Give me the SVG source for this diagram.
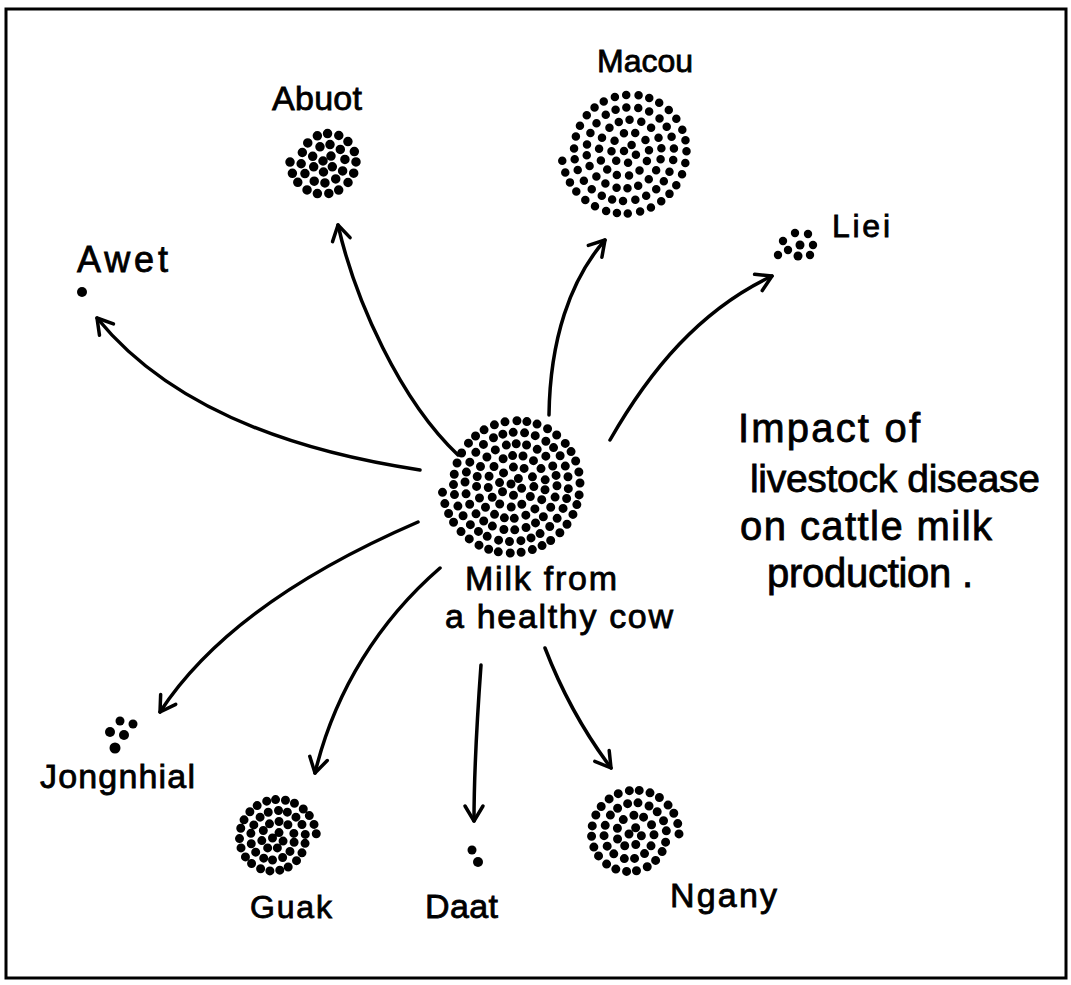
<svg xmlns="http://www.w3.org/2000/svg" width="1071" height="985" viewBox="0 0 1071 985">
<defs>
<style>
.t{font-family:"Liberation Sans",Arial,sans-serif;fill:#000;stroke:#000;stroke-width:0.8}
.c{fill:none;stroke:#000;stroke-width:3.5;stroke-linecap:round}
.sp{fill:none;stroke:#000;stroke-linecap:round}
.d{fill:#000}
</style>
<marker id="ah" viewBox="-20 -15 30 30" refX="0" refY="0" markerWidth="30" markerHeight="30" markerUnits="userSpaceOnUse" orient="auto">
<path d="M-15,-9 L0,0 L-15,9" fill="none" stroke="#000" stroke-width="3.5" stroke-linecap="round" stroke-linejoin="round"/>
</marker>
</defs>
<rect x="0" y="0" width="1071" height="985" fill="#fff"/>
<rect x="6" y="9" width="1060" height="969" fill="none" stroke="#000" stroke-width="3"/>

<g id="connectors">
<path class="c" d="M420,470 C320,455 180,420 97,318" marker-end="url(#ah)"/>
<path class="c" d="M458,455 C400,400 355,300 338,225" marker-end="url(#ah)"/>
<path class="c" d="M549,415 C550,340 570,280 605,240" marker-end="url(#ah)"/>
<path class="c" d="M610,440 C650,370 700,310 772,276" marker-end="url(#ah)"/>
<path class="c" d="M418,522 C330,560 220,620 160,712" marker-end="url(#ah)"/>
<path class="c" d="M440,568 C380,620 335,690 315,773" marker-end="url(#ah)"/>
<path class="c" d="M481,665 C477,720 474,780 474,821" marker-end="url(#ah)"/>
<path class="c" d="M545,648 C565,700 590,740 611,768" marker-end="url(#ah)"/>
</g>

<g id="center">
<path class="sp" stroke-width="9" stroke-dasharray="0 10.5 0 11.5 0 11 0 12 0 10" d="M511,484 a5.75,5.75 0 0 1 11.5,0 a11.5,11.5 0 0 1 -23,0 a17.25,17.25 0 0 1 34.5,0 a23,23 0 0 1 -46,0 a28.75,28.75 0 0 1 57.5,0 a34.5,34.5 0 0 1 -69,0 a40.25,40.25 0 0 1 80.5,0 a46,46 0 0 1 -92,0 a51.75,51.75 0 0 1 103.5,0 a57.5,57.5 0 0 1 -115,0 a63.25,63.25 0 0 1 126.5,0 a69,69 0 0 1 -138,0"/>
<text class="t" font-size="34" x="465" y="590" textLength="152" lengthAdjust="spacing">Milk from</text>
<text class="t" font-size="34" x="445" y="628" textLength="228" lengthAdjust="spacing">a healthy cow</text>
</g>

<g id="macou">
<path class="sp" stroke-width="8.5" stroke-dasharray="0 11 0 12 0 11.5 0 12.5 0 11" d="M624,151 a6.25,6.25 0 0 1 12.5,0 a12.5,12.5 0 0 1 -25,0 a18.75,18.75 0 0 1 37.5,0 a25,25 0 0 1 -50,0 a31.25,31.25 0 0 1 62.5,0 a37.5,37.5 0 0 1 -75,0 a43.75,43.75 0 0 1 87.5,0 a50,50 0 0 1 -100,0 a56.25,56.25 0 0 1 112.5,0 a62.5,62.5 0 0 1 -125,0"/>
<text class="t" font-size="32" x="597" y="72" textLength="96" lengthAdjust="spacing">Macou</text>
</g>

<g id="abuot">
<path class="sp" stroke-width="9.5" stroke-dasharray="0 11 0 12 0 10.5 0 11.5" d="M323,161 a5.5,5.5 0 0 1 11,0 a11,11 0 0 1 -22,0 a16.5,16.5 0 0 1 33,0 a22,22 0 0 1 -44,0 a27.5,27.5 0 0 1 55,0 a33,33 0 0 1 -66,0"/>
<text class="t" font-size="34" x="272" y="110" textLength="90" lengthAdjust="spacing">Abuot</text>
</g>

<g id="awet">
<circle class="d" cx="82" cy="292" r="5"/>
<text class="t" font-size="36" x="77" y="272" textLength="91" lengthAdjust="spacing">Awet</text>
</g>

<g id="liei">
<circle class="d" cx="795" cy="233" r="4.2"/>
<circle class="d" cx="808" cy="234" r="4.2"/>
<circle class="d" cx="783" cy="241" r="4.2"/>
<circle class="d" cx="800" cy="245" r="4.5"/>
<circle class="d" cx="813" cy="245" r="4.2"/>
<circle class="d" cx="788" cy="250" r="4.2"/>
<circle class="d" cx="778" cy="255" r="4.2"/>
<circle class="d" cx="798" cy="256" r="4.5"/>
<circle class="d" cx="810" cy="255" r="4.2"/>
<text class="t" font-size="32" x="832" y="237" textLength="58" lengthAdjust="spacing">Liei</text>
</g>

<g id="jongnhial">
<circle class="d" cx="120" cy="721" r="4.5"/>
<circle class="d" cx="133" cy="724" r="4.5"/>
<circle class="d" cx="110" cy="732" r="5"/>
<circle class="d" cx="124" cy="735" r="5"/>
<circle class="d" cx="115" cy="748" r="5.5"/>
<text class="t" font-size="34" x="40" y="788" textLength="155" lengthAdjust="spacing">Jongnhial</text>
</g>

<g id="guak">
<path class="sp" stroke-width="9" stroke-dasharray="0 9.5 0 10.5 0 9 0 10" d="M272.5,838 a5.5,5.5 0 0 1 11,0 a11,11 0 0 1 -22,0 a16.5,16.5 0 0 1 33,0 a22,22 0 0 1 -44,0 a27.5,27.5 0 0 1 55,0 a33,33 0 0 1 -66,0 a38.5,38.5 0 0 1 77,0"/>
<text class="t" font-size="32" x="250" y="918" textLength="82" lengthAdjust="spacing">Guak</text>
</g>

<g id="daat">
<circle class="d" cx="472" cy="850" r="4.5"/>
<circle class="d" cx="478" cy="862" r="5"/>
<text class="t" font-size="34" x="425" y="918" textLength="73" lengthAdjust="spacing">Daat</text>
</g>

<g id="ngany">
<path class="sp" stroke-width="9" stroke-dasharray="0 10 0 11 0 10.5 0 11.5" d="M629,834 a6.25,6.25 0 0 1 12.5,0 a12.5,12.5 0 0 1 -25,0 a18.75,18.75 0 0 1 37.5,0 a25,25 0 0 1 -50,0 a31.25,31.25 0 0 1 62.5,0 a37.5,37.5 0 0 1 -75,0 a43.75,43.75 0 0 1 87.5,0"/>
<text class="t" font-size="34" x="670" y="907" textLength="107" lengthAdjust="spacing">Ngany</text>
</g>

<g id="title">
<text class="t" font-size="40" x="738" y="442" textLength="182" lengthAdjust="spacing">Impact of</text>
<text class="t" font-size="39" x="750" y="492" textLength="290" lengthAdjust="spacing">livestock disease</text>
<text class="t" font-size="40" x="740" y="540" textLength="252" lengthAdjust="spacing">on cattle milk</text>
<text class="t" font-size="40" x="767" y="587" textLength="206" lengthAdjust="spacing">production .</text>
</g>
</svg>
